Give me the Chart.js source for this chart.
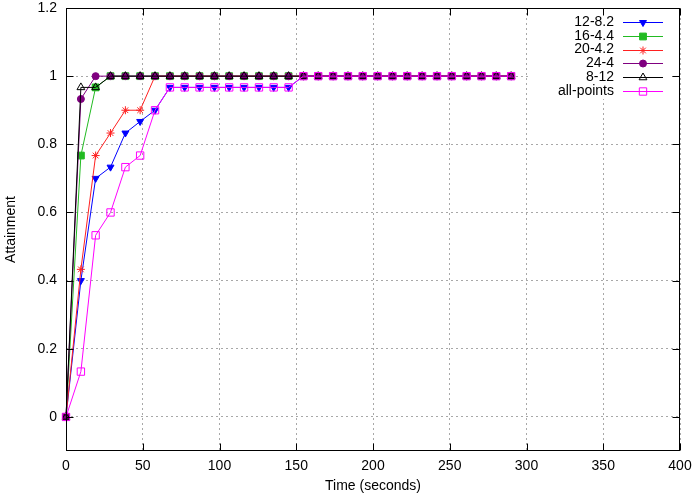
<!DOCTYPE html>
<html>
<head>
<meta charset="utf-8">
<script src="https://cdn.jsdelivr.net/npm/chart.js@4/dist/chart.umd.min.js"></script>
<style>
  html,body{margin:0;padding:0;background:#fff;}
  canvas{display:block;}
</style>
</head>
<body>
<canvas id="c" width="697" height="495" style="width:697px;height:495px"></canvas>
<script>
// ===== DATA =====
const times = [0, 9.7, 19.3, 29, 38.7, 48.3, 58, 67.7, 77.3, 87, 96.7, 106.3, 116, 125.7, 135.3, 145,
               154.7, 164.3, 174, 183.7, 193.3, 203, 212.7, 222.3, 232, 241.7, 251.3, 261, 270.7, 280.3, 290];

const s12_8_2   = [0, 0.4, 0.7, 0.733, 0.833, 0.867, 0.9, 0.967, 0.967, 0.967, 0.967, 0.967, 0.967, 0.967, 0.967, 0.967,
                   1, 1, 1, 1, 1, 1, 1, 1, 1, 1, 1, 1, 1, 1, 1];
const s16_4_4   = [0, 0.767, 0.967, 1, 1, 1, 1, 1, 1, 1, 1, 1, 1, 1, 1, 1,
                   1, 1, 1, 1, 1, 1, 1, 1, 1, 1, 1, 1, 1, 1, 1];
const s20_4_2   = [0, 0.433, 0.767, 0.833, 0.9, 0.9, 1, 1, 1, 1, 1, 1, 1, 1, 1, 1,
                   1, 1, 1, 1, 1, 1, 1, 1, 1, 1, 1, 1, 1, 1, 1];
const s24_4     = [0, 0.933, 1, 1, 1, 1, 1, 1, 1, 1, 1, 1, 1, 1, 1, 1,
                   1, 1, 1, 1, 1, 1, 1, 1, 1, 1, 1, 1, 1, 1, 1];
const s8_12     = [0, 0.967, 0.967, 1, 1, 1, 1, 1, 1, 1, 1, 1, 1, 1, 1, 1,
                   1, 1, 1, 1, 1, 1, 1, 1, 1, 1, 1, 1, 1, 1, 1];
const allPoints = [0, 0.133, 0.533, 0.6, 0.733, 0.767, 0.9, 0.967, 0.967, 0.967, 0.967, 0.967, 0.967, 0.967, 0.967, 0.967,
                   1, 1, 1, 1, 1, 1, 1, 1, 1, 1, 1, 1, 1, 1, 1];

const xTicks = [0, 50, 100, 150, 200, 250, 300, 350, 400];
const yTicks = [0, 0.2, 0.4, 0.6, 0.8, 1, 1.2];

const FONT = '"Liberation Sans", Arial, sans-serif';

// ===== DATASETS =====
function ds(label, ys, color, style, radius, fill, rot){
  return {
    label, data: times.map((t,i)=>({x:t, y:ys[i]})),
    borderColor: color, borderWidth: 1,
    pointStyle: style, pointRadius: radius, pointRotation: rot||0,
    pointBorderWidth: 1, pointBorderColor: color,
    pointBackgroundColor: fill ? color : 'rgba(0,0,0,0)',
    fill: false, tension: 0, clip: false
  };
}
const sets = [
  ds('12-8.2',     s12_8_2,   '#0000ff', 'triangle', 4,   true, 180),
  ds('16-4.4',     s16_4_4,   '#22bb22', 'rect',     4.8, true),
  ds('20-4.2',     s20_4_2,   '#ff2020', 'star',     4,   false),
  ds('24-4',       s24_4,     '#800080', 'circle',   3.5, true),
  ds('8-12',       s8_12,     '#000000', 'triangle', 4.5, false),
  ds('all-points', allPoints, '#ff00ff', 'rect',     5.2, false)
];
// gnuplot draws the last one on top
sets.forEach((d,i)=>{ d.order = sets.length - 1 - i; });

// ===== PLUGINS =====
const frame = {
  id: 'frame',
  afterDatasetsDraw(chart){
    const {ctx, chartArea: a, scales} = chart;
    const L = Math.round(a.left)+0.5, R = Math.round(a.right)-0.5;
    const T = Math.round(a.top)+0.5, B = Math.round(a.bottom)-0.5;
    ctx.save();
    ctx.strokeStyle = '#000'; ctx.lineWidth = 1;
    ctx.beginPath();
    xTicks.forEach(v=>{
      const x = Math.round(scales.x.getPixelForValue(v))+0.5;
      ctx.moveTo(x, B); ctx.lineTo(x, B-7);
      ctx.moveTo(x, T); ctx.lineTo(x, T+7);
    });
    yTicks.forEach(v=>{
      const y = Math.round(scales.y.getPixelForValue(v))+0.5;
      ctx.moveTo(L, y); ctx.lineTo(L+7, y);
      ctx.moveTo(R, y); ctx.lineTo(R-7, y);
    });
    ctx.stroke();
    ctx.strokeRect(L, T, R-L, B-T);
    ctx.restore();
  }
};

// key box is opaque, like gnuplot's: it hides the grid behind it
const key = {
  id: 'key',
  beforeDatasetsDraw(chart){
    const ctx = chart.ctx;
    ctx.save();
    ctx.fillStyle = '#fff';
    ctx.fillRect(528, 16, 144, 83);
    ctx.restore();
  },
  afterDraw(chart){
    const ctx = chart.ctx;
    chart.data.datasets.forEach((d,i)=>{
      const y = 22 + i*13.8;
      ctx.save();
      ctx.font = '14px ' + FONT;
      ctx.fillStyle = '#000'; ctx.textAlign = 'right'; ctx.textBaseline = 'middle';
      ctx.fillText(d.label, 614, y);
      ctx.strokeStyle = d.borderColor; ctx.lineWidth = 1;
      ctx.beginPath();
      ctx.moveTo(623, Math.round(y)+0.5); ctx.lineTo(663, Math.round(y)+0.5);
      ctx.stroke();
      ctx.fillStyle = d.pointBackgroundColor;
      Chart.helpers.drawPoint(ctx, {pointStyle:d.pointStyle, radius:d.pointRadius,
        rotation:d.pointRotation, borderWidth:1}, 643, Math.round(y)+0.5);
      ctx.restore();
    });
  }
};

// ===== CHART =====
new Chart(document.getElementById('c').getContext('2d'), {
  type: 'line',
  data: { datasets: sets },
  plugins: [frame, key],
  options: {
    responsive: false, animation: false, devicePixelRatio: 1,
    layout: { padding: {top: 8, right: 17, left: 0, bottom: 0} },
    plugins: { legend: {display: false}, tooltip: {enabled: false} },
    scales: {
      x: {
        type: 'linear', min: 0, max: 400,
        afterBuildTicks: s => { s.ticks = xTicks.map(v=>({value:v})); },
        afterFit: s => { s.height = 44; s.paddingLeft = 0; s.paddingRight = 0; },
        ticks: { color: '#000', padding: 7, maxRotation: 0, font: {family: FONT, size: 14},
                 callback: v => String(v) },
        grid: { color: '#a8a8a8', lineWidth: 1, drawTicks: false },
        border: { display: false, dash: [2, 3] },
        title: { display: true, text: 'Time (seconds)', color: '#000',
                 font: {family: FONT, size: 14}, padding: {top: 0, bottom: 0} }
      },
      y: {
        type: 'linear', min: -0.1, max: 1.2,
        afterBuildTicks: s => { s.ticks = yTicks.map(v=>({value:v})); },
        afterFit: s => { s.width = 66; s.paddingTop = 0; s.paddingBottom = 0; },
        ticks: { color: '#000', padding: 9, font: {family: FONT, size: 14},
                 callback: v => String(v) },
        grid: { color: '#a8a8a8', lineWidth: 1, drawTicks: false },
        border: { display: false, dash: [2, 3] },
        title: { display: true, text: 'Attainment', color: '#000',
                 font: {family: FONT, size: 14}, padding: {top: 3, bottom: 0} }
      }
    }
  }
});
</script>
</body>
</html>
